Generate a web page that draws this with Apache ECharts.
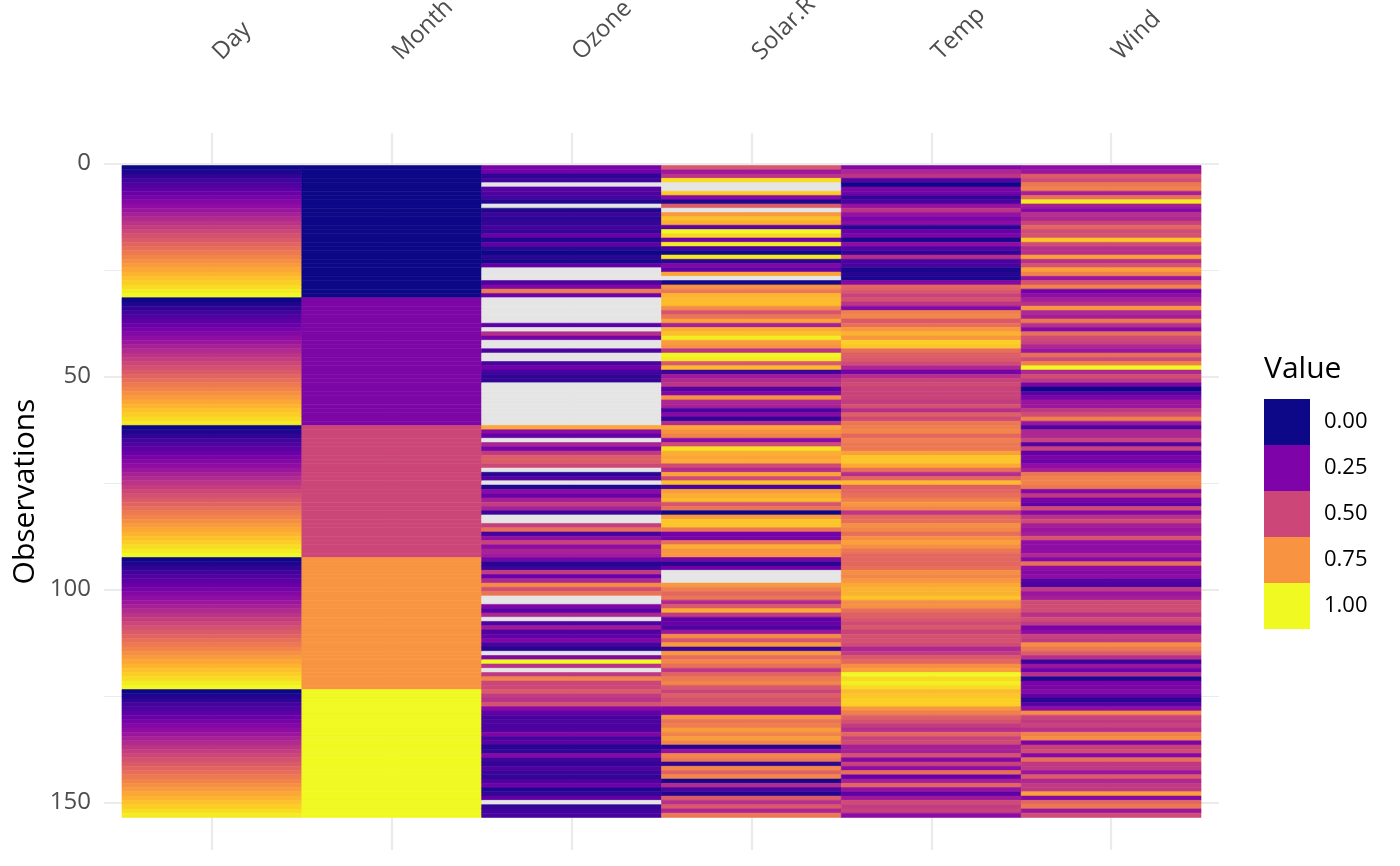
<!DOCTYPE html>
<html><head><meta charset="utf-8">
<script src="https://cdn.jsdelivr.net/npm/echarts@6/dist/echarts.min.js"></script>
<style>html,body{margin:0;padding:0;background:#fff}#c{width:1400px;height:866px}</style>
</head><body><div id="c"></div>
<script>
const variables = ['Day','Month','Ozone','Solar.R','Temp','Wind'];
const xTicks = [1,2,3,4,5,6];
const yTicks = [0,50,100,150];
const yMinorTicks = [25,75,125];
const legendValues = [0,0.25,0.5,0.75,1];
const legendLabels = ['0.00','0.25','0.50','0.75','1.00'];
const legendColors = ['#0D0887','#7E03A8','#CC4678','#F89441','#F0F921'];
const plasmaStops = ['#0d0887','#41049d','#6a00a8','#8f0da4','#b12a90','#cc4778','#e16462','#f2844b','#fca636','#fcce25','#f0f921'];
const NA_COLOR = '#E5E5E5';

const day = [1,2,3,4,5,6,7,8,9,10,11,12,13,14,15,16,17,18,19,20,21,22,23,24,25,26,27,28,29,30,31,
1,2,3,4,5,6,7,8,9,10,11,12,13,14,15,16,17,18,19,20,21,22,23,24,25,26,27,28,29,30,
1,2,3,4,5,6,7,8,9,10,11,12,13,14,15,16,17,18,19,20,21,22,23,24,25,26,27,28,29,30,31,
1,2,3,4,5,6,7,8,9,10,11,12,13,14,15,16,17,18,19,20,21,22,23,24,25,26,27,28,29,30,31,
1,2,3,4,5,6,7,8,9,10,11,12,13,14,15,16,17,18,19,20,21,22,23,24,25,26,27,28,29,30];
const month = [5,5,5,5,5,5,5,5,5,5,5,5,5,5,5,5,5,5,5,5,5,5,5,5,5,5,5,5,5,5,5,
6,6,6,6,6,6,6,6,6,6,6,6,6,6,6,6,6,6,6,6,6,6,6,6,6,6,6,6,6,6,
7,7,7,7,7,7,7,7,7,7,7,7,7,7,7,7,7,7,7,7,7,7,7,7,7,7,7,7,7,7,7,
8,8,8,8,8,8,8,8,8,8,8,8,8,8,8,8,8,8,8,8,8,8,8,8,8,8,8,8,8,8,8,
9,9,9,9,9,9,9,9,9,9,9,9,9,9,9,9,9,9,9,9,9,9,9,9,9,9,9,9,9,9];
const ozone = [41,36,12,18,null,28,23,19,8,null,
7,16,11,14,18,14,34,6,30,11,
1,11,4,32,null,null,null,23,45,115,
37,null,null,null,null,null,null,29,null,71,
39,null,null,23,null,null,21,37,20,12,
13,null,null,null,null,null,null,null,null,null,
null,135,49,32,null,64,40,77,97,97,
85,null,10,27,null,7,48,35,61,79,
63,16,null,null,80,108,20,52,82,50,
64,59,39,9,16,78,35,66,122,89,
110,null,null,44,28,65,null,22,59,23,
31,44,21,9,null,45,168,73,null,76,
118,84,85,96,78,73,91,47,32,20,
23,21,24,44,21,28,9,13,46,18,
13,24,16,13,23,36,7,14,30,null,
14,18,20];
const solarR = [190,118,149,313,null,null,299,99,19,194,
null,256,290,274,65,334,307,78,322,44,
8,320,25,92,66,266,null,13,252,223,
279,286,287,242,186,220,264,127,273,291,
323,259,250,148,332,322,191,284,37,120,
137,150,59,91,250,135,127,47,98,31,
138,269,248,236,101,175,314,276,267,272,
175,139,264,175,291,48,260,274,285,187,
220,7,258,295,294,223,81,82,213,275,
253,254,83,24,77,null,null,null,255,229,
207,222,137,192,273,157,64,71,51,115,
244,190,259,36,255,212,238,215,153,203,
225,237,188,167,197,183,189,95,92,252,
220,230,259,236,259,238,24,112,237,224,
27,238,201,238,14,139,49,20,193,145,
191,131,223];
const temp = [67,72,74,62,56,66,65,59,61,69,
74,69,66,68,58,64,66,57,68,62,
59,73,61,61,57,58,57,67,81,79,
76,78,74,67,84,85,79,82,87,90,
87,93,92,82,80,79,77,72,65,73,
76,77,76,76,76,75,78,73,80,77,
83,84,85,81,84,83,83,88,92,92,
89,82,73,81,91,80,81,82,84,87,
85,74,81,82,86,85,82,86,88,86,
83,81,81,81,82,86,85,87,89,90,
90,92,86,86,82,80,79,77,79,76,
78,78,77,72,75,79,81,86,88,97,
94,96,94,91,92,93,93,87,84,80,
78,75,73,81,76,77,71,71,78,67,
76,68,82,64,71,81,69,63,70,77,
75,76,68];
const wind = [7.4,8.0,12.6,11.5,14.3,14.9,8.6,13.8,20.1,8.6,
6.9,9.7,9.2,10.9,13.2,11.5,12.0,18.4,11.5,9.7,
9.7,16.6,9.7,12.0,16.6,14.9,8.0,12.0,14.9,5.7,
7.4,8.6,9.7,16.1,9.2,8.6,14.3,9.7,6.9,13.8,
11.5,10.9,9.2,8.0,13.8,11.5,14.9,20.7,9.2,11.5,
10.3,6.3,1.7,4.6,6.3,8.0,8.0,10.3,11.5,14.9,
8.0,4.1,9.2,9.2,10.9,4.6,10.9,5.1,6.3,5.7,
7.4,8.6,14.3,14.9,14.9,14.3,6.9,10.3,6.3,5.1,
11.5,6.9,9.7,11.5,8.6,8.0,8.6,12.0,7.4,7.4,
7.4,9.2,6.9,13.8,7.4,6.9,7.4,4.6,4.0,10.3,
8.0,8.6,11.5,11.5,11.5,9.7,11.5,10.3,6.3,7.4,
10.9,10.3,15.5,14.3,12.6,9.7,3.4,8.0,5.7,9.7,
2.3,6.3,6.3,6.9,5.1,2.8,4.6,7.4,15.5,10.9,
10.3,10.9,9.7,14.9,15.5,6.3,10.9,11.5,6.9,13.8,
10.3,10.3,8.0,12.6,9.2,10.3,10.3,16.6,6.9,13.2,
14.3,8.0,11.5];

function scale01(arr){
  const v = arr.filter(x => x !== null);
  const mn = Math.min(...v), mx = Math.max(...v);
  return arr.map(x => x === null ? null : (x - mn) / (mx - mn));
}
const columns = [day, month, ozone, solarR, temp, wind].map(scale01);
const cells = [];
columns.forEach((col, ci) => col.forEach((v, ri) => cells.push([xTicks[ci], ri + 1, v === null ? '-' : v])));

const FONT = 'Open Sans';
const chart = echarts.init(document.getElementById('c'), null, {renderer:'canvas'});
chart.setOption({
  animation: false,
  backgroundColor: '#ffffff',
  textStyle: {fontFamily: FONT},
  title: {text:'Value', left:1264, top:354, padding:0, textStyle:{fontSize:30, fontWeight:'normal', color:'#000', fontFamily:FONT}},
  grid: {left:104, right:181, top:133, bottom:16, containLabel:false, outerBoundsMode:'none'},
  xAxis: {
    type:'value', position:'top', min:0.4, max:6.6,
    axisLine:{show:false},
    axisTick:{show:false, customValues:xTicks},
    axisLabel:{customValues:xTicks, formatter: v => variables[xTicks.indexOf(Math.round(v))], rotate:45, margin:72, padding:[0,0,0,7], color:'#4D4D4D', fontSize:24, fontFamily:FONT},
    splitLine:{show:true, lineStyle:{color:'#EBEBEB', width:2.2}}
  },
  yAxis: [{
    type:'value', inverse:true, min:-7.15, max:161.15,
    axisLine:{show:false},
    axisTick:{show:false, customValues:yTicks},
    axisLabel:{customValues:yTicks, margin:13, color:'#4D4D4D', fontSize:24, fontFamily:FONT},
    splitLine:{show:true, lineStyle:{color:'#EBEBEB', width:2.2}},
    name:'Observations', nameLocation:'middle', nameRotate:90, nameGap:64, nameMoveOverlap:false,
    nameTextStyle:{fontSize:30, color:'#000', fontFamily:FONT}
  },{
    type:'value', inverse:true, min:-7.15, max:161.15, position:'left',
    axisLine:{show:false},
    axisTick:{show:false, customValues:yMinorTicks},
    axisLabel:{show:false},
    splitLine:{show:true, lineStyle:{color:'#EBEBEB', width:1.1}}
  }],
  visualMap: [{
    type:'continuous', show:false, seriesIndex:0, dimension:2, min:0, max:1,
    inRange:{color:plasmaStops}, outOfRange:{color:NA_COLOR}
  },{
    type:'piecewise', seriesIndex:1, dimension:0, inverse:true,
    pieces: legendValues.map((v,i) => ({value:v, label:legendLabels[i], color:legendColors[i]})),
    left:1249, top:384, itemWidth:46, itemHeight:46, itemGap:0, itemSymbol:'rect',
    textGap:14, align:'left', selectedMode:false,
    textStyle:{fontSize:22, color:'#000', fontFamily:FONT}
  }],
  series: [{
    type:'custom', coordinateSystem:'cartesian2d', xAxisIndex:0, yAxisIndex:0,
    data: cells, encode:{x:0, y:1},
    renderItem: function(params, api){
      const x = api.value(0), y = api.value(1), v = api.value(2);
      const p0 = api.coord([x - 0.5, y - 0.5]);
      const p1 = api.coord([x + 0.5, y + 0.5]);
      const fill = (v === null || isNaN(v)) ? NA_COLOR : api.visual('color');
      return {type:'rect', shape:{x:p0[0], y:Math.min(p0[1],p1[1]), width:p1[0]-p0[0], height:Math.abs(p1[1]-p0[1])},
        style:{fill:fill, stroke:fill, lineWidth:0.6}};
    }
  },{
    type:'scatter', xAxisIndex:0, yAxisIndex:0, data:[], silent:true
  }]
});
</script></body></html>
